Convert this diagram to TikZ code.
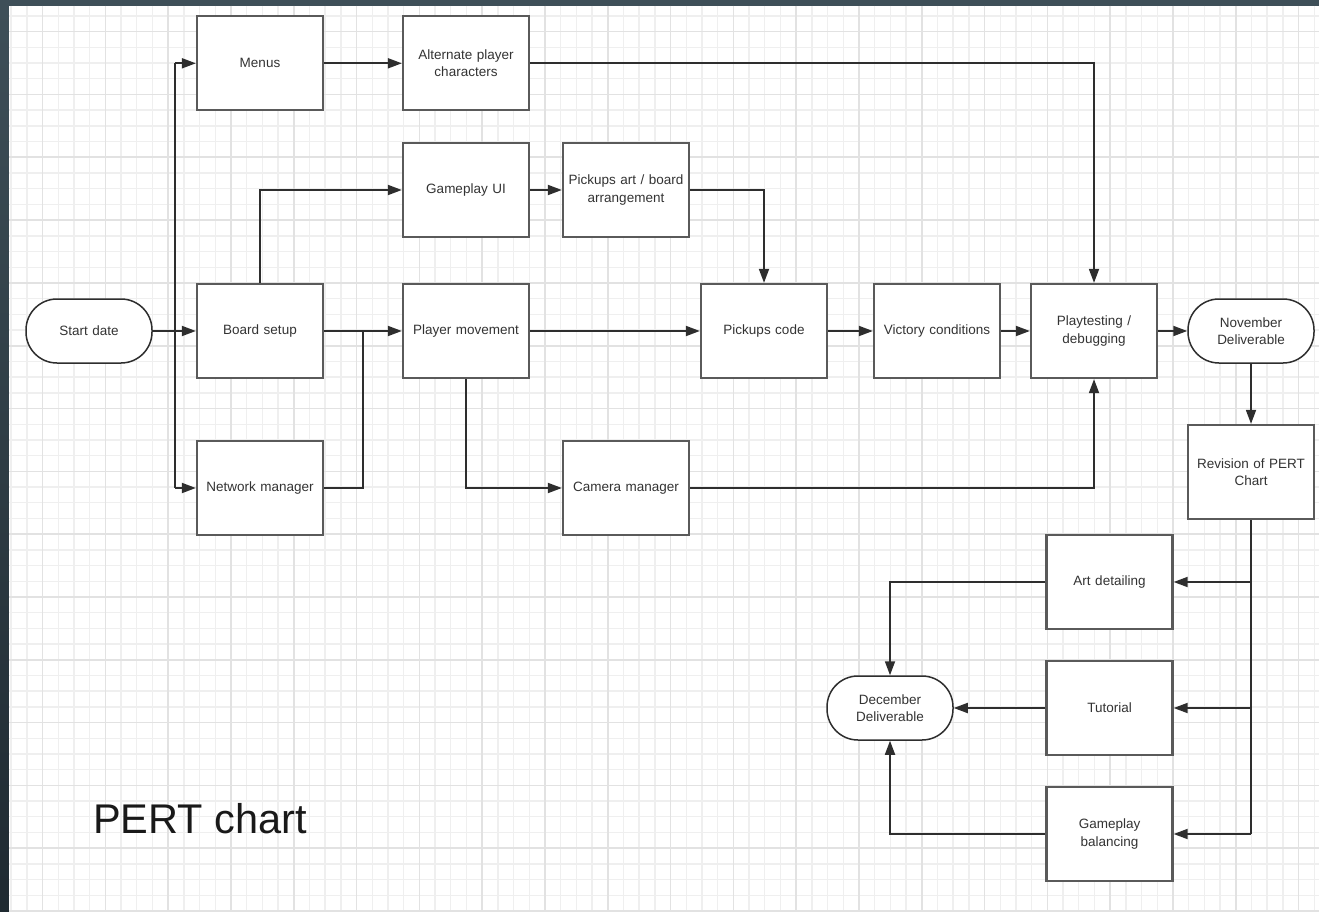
\documentclass[tikz,border=0pt]{standalone}
\usepackage{fontspec}
\setmainfont{Liberation Sans}
\usetikzlibrary{arrows.meta,calc}

\definecolor{frame}{HTML}{3E4F58}
\definecolor{framedark}{HTML}{1F2A31}
\definecolor{gridminor}{HTML}{EFEFEF}
\definecolor{gridmajor}{HTML}{E2E2E2}
\definecolor{boxline}{HTML}{5A5A5A}
\definecolor{wire}{HTML}{2E2E2E}
\definecolor{label}{HTML}{333333}

\tikzset{
  taskbox/.style={draw=boxline, line width=2.3pt, fill=white,
    minimum width=126pt, minimum height=94pt, inner sep=2pt,
    text width=122pt, align=center, text=label, font=\fontsize{13.5}{17.5}\selectfont},
  milestone/.style={draw=wire, line width=1.5pt, fill=white,
    rounded corners=31pt, minimum width=126pt, minimum height=64pt,
    inner sep=2pt, text width=110pt, align=center, text=label,
    font=\fontsize{13.5}{17.5}\selectfont},
  wireline/.style={draw=wire, line width=1.8pt},
  flow/.style={wireline, -{Triangle[length=14pt,width=10pt]}},
  minorgrid/.style={draw=gridminor, line width=1.4pt},
  majorgrid/.style={draw=gridmajor, line width=1.6pt}
}

\begin{document}
\begin{tikzpicture}[x=1pt,y=-1pt]
\useasboundingbox (0,0) rectangle (1319,912);

% dark surround and white canvas
\fill[frame] (0,0) rectangle (1319,912);
\shade[top color=frame, bottom color=framedark] (0,6) rectangle (9,912);
\fill[white] (9,6) rectangle (1319,912);

% canvas grid
\begin{scope}
  \clip (9,6) rectangle (1319,912);
  \foreach \i in {0,...,84} \draw[minorgrid] ({11.1+15.7*\i},6) -- ++(0,906);
  \foreach \j in {0,...,57} \draw[minorgrid] (9,{16+15.7*\j}) -- ++(1310,0);
  \foreach \i in {0,...,20} \draw[majorgrid] ({42.5+62.8*\i},6) -- ++(0,906);
  \foreach \j in {0,...,14} \draw[majorgrid] (9,{31.7+62.8*\j}) -- ++(1310,0);
\end{scope}

% tasks and milestones
\node[milestone] (start)   at (89,331)     {Start date};
\node[taskbox]   (menus)   at (260,63.3)   {Menus};
\node[taskbox]   (alt)     at (466,63.3)   {Alternate player\\characters};
\node[taskbox]   (gui)     at (466,190)    {Gameplay UI};
\node[taskbox]   (pickart) at (626,190)    {Pickups art / board\\arrangement};
\node[taskbox]   (board)   at (260,331)    {Board setup};
\node[taskbox]   (move)    at (466,331)    {Player movement};
\node[taskbox]   (pcode)   at (764,331)    {Pickups code};
\node[taskbox]   (victory) at (937,331)    {Victory conditions};
\node[taskbox]   (play)    at (1094,331)   {Playtesting /\\debugging};
\node[milestone] (nov)     at (1251,331)   {November\\Deliverable};
\node[taskbox]   (net)     at (260,488)    {Network manager};
\node[taskbox]   (cam)     at (626,488)    {Camera manager};
\node[taskbox]   (rev)     at (1251,472)   {Revision of PERT\\Chart};
\node[taskbox]   (art)     at (1109.5,582) {Art detailing};
\node[taskbox]   (tut)     at (1109.5,708) {Tutorial};
\node[taskbox]   (bal)     at (1109.5,834) {Gameplay\\balancing};
\node[milestone] (dec)     at (890,708)    {December\\Deliverable};

\node[anchor=base west, inner sep=0pt, text=black!90, font=\fontsize{41.5}{45}\selectfont]
  (title) at (93,833) {PERT chart};

% branch points
\coordinate (split) at (175,331);
\coordinate (join)  at (363,331);
\coordinate (fan)   at (rev.south |- bal.east);

% connectors
\draw[flow] (start.east) -- (board.west);
\draw[wireline] (split |- menus.west) -- (split |- net.west);
\draw[flow] (split |- menus.west) -- (menus.west);
\draw[flow] (split |- net.west) -- (net.west);
\draw[flow] (menus.east) -- (alt.west);
\draw[flow] (alt.east) -| (play.north);
\draw[flow] (board.north) |- (gui.west);
\draw[flow] (gui.east) -- (pickart.west);
\draw[flow] (pickart.east) -| (pcode.north);
\draw[flow] (board.east) -- (move.west);
\draw[wireline] (net.east) -| (join);
\draw[flow] (move.east) -- (pcode.west);
\draw[flow] (move.south) |- (cam.west);
\draw[flow] (cam.east) -| (play.south);
\draw[flow] (pcode.east) -- (victory.west);
\draw[flow] (victory.east) -- (play.west);
\draw[flow] (play.east) -- (nov.west);
\draw[flow] (nov.south) -- (rev.north);
\draw[wireline] (rev.south) -- (fan);
\draw[flow] (rev.south |- art.east) -- (art.east);
\draw[flow] (rev.south |- tut.east) -- (tut.east);
\draw[flow] (fan) -- (bal.east);
\draw[flow] (art.west) -| (dec.north);
\draw[flow] (tut.west) -- (dec.east);
\draw[flow] (bal.west) -| (dec.south);
\end{tikzpicture}
\end{document}
